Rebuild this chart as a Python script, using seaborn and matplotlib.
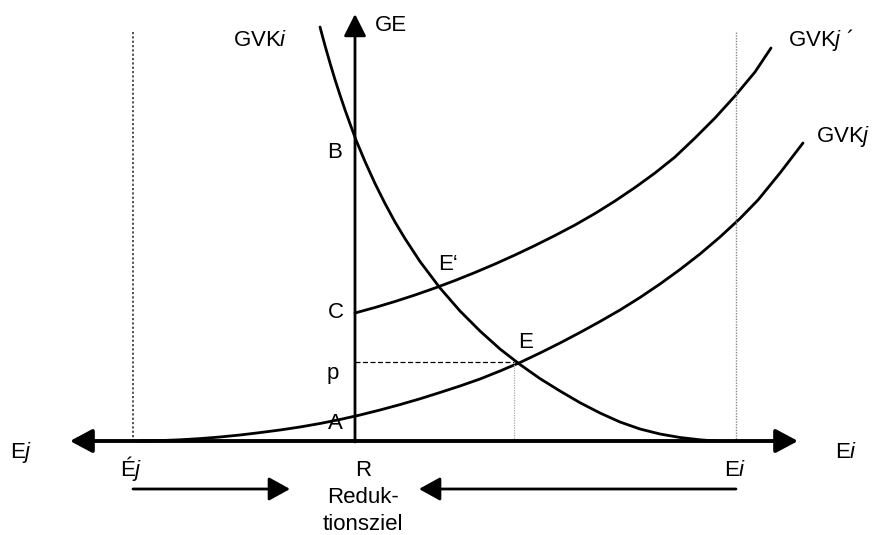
import matplotlib
matplotlib.use("Agg")
import matplotlib.pyplot as plt
import seaborn as sns
import pandas as pd

sns.set_style("white")
plt.rcParams['font.family'] = ['Liberation Sans', 'DejaVu Sans']
plt.rcParams['mathtext.fontset'] = 'custom'
plt.rcParams['mathtext.rm'] = 'Liberation Sans'
plt.rcParams['mathtext.it'] = 'Liberation Sans:italic'

# ---- data (diagram units, y grows downward) ----
gvki_x = [320, 325, 330, 335, 340, 345, 350, 356, 365, 375, 385, 395, 405, 420, 440,
          460, 480, 500, 520, 540, 560, 580, 600, 620, 640, 660, 680, 700, 715]
gvki_y = [27, 45.6, 63, 79.6, 95, 109.8, 123.7, 140, 161.5, 183.5, 203.5, 222, 238.6, 261.5, 288,
          311, 331, 349, 364.5, 378.6, 391, 402.7, 413, 422, 429, 434, 437.5, 439.8, 441]

gvkj2_x = [355, 375, 395, 415, 435, 455, 475, 495, 515, 535, 555, 575, 595,
           615, 635, 655, 675, 695, 715, 735, 755, 771]
gvkj2_y = [313, 307.5, 301.5, 295, 288, 280.5, 272.5, 264, 255, 245.5, 235.5, 225, 213.5,
           201, 187.5, 173, 157, 138, 118, 96, 72, 48]

gvkj_x = [140, 160, 180, 200, 220, 240, 260, 280, 300, 320, 340, 360, 380, 400, 420, 440,
          460, 480, 500, 520, 540, 560, 580, 600, 620, 640, 660, 680, 700, 720, 740, 758, 780, 803]
gvkj_y = [441, 440.6, 439.8, 438.6, 437, 435, 432.6, 430, 427, 423.5, 419.5, 415, 410, 404.6,
          398.8, 392.5, 386, 379, 371, 362.5, 353, 343, 332.5, 321.5, 310, 297.5, 284, 269.5,
          254, 237, 218.5, 200, 173, 143]

axis_y = 441          # horizontal axis (quantity)
axis_x = 355          # vertical axis (GE) at R
x_left_end, x_right_end = 70, 798
y_top_end = 14
ej_limit_x = 133      # Éj
ei_limit_x = 736      # Ei
limit_top = 32
E_x, p_y = 514, 362   # equilibrium E / price p
arrow_y = 489

df = pd.concat([
    pd.DataFrame({'x': gvki_x, 'y': gvki_y, 'curve': 'GVKi'}),
    pd.DataFrame({'x': gvkj2_x, 'y': gvkj2_y, 'curve': "GVKj'"}),
    pd.DataFrame({'x': gvkj_x, 'y': gvkj_y, 'curve': 'GVKj'}),
])

fig = plt.figure(figsize=(8.75, 5.35), dpi=100)
ax = fig.add_axes([0, 0, 1, 1])
ax.set_xlim(0, 875)
ax.set_ylim(535, 0)
ax.axis('off')

sns.lineplot(data=df, x='x', y='y', hue='curve', units='curve', estimator=None,
             sort=False, palette={'GVKi': 'black', "GVKj'": 'black', 'GVKj': 'black'},
             legend=False, lw=2, ax=ax)

# guide lines
ax.plot([ej_limit_x, ej_limit_x], [limit_top, axis_y], color='#444444', lw=1.3, ls=(0, (1.2, 1.2)))
ax.plot([ei_limit_x, ei_limit_x], [limit_top, axis_y], color='#888888', lw=1.0, ls=(0, (1, 1)))
ax.plot([axis_x, E_x], [p_y, p_y], color='black', lw=0.9, ls=(0, (4, 2)))
ax.plot([E_x, E_x], [p_y, axis_y], color='#aaaaaa', lw=0.9, ls=(0, (1, 1)))

# axes with arrowheads
ax.annotate('', xy=(x_right_end, axis_y), xytext=(x_left_end, axis_y),
            arrowprops=dict(arrowstyle='<|-|>,head_length=1.35,head_width=0.72',
                            mutation_scale=10, lw=2.8, color='black', shrinkA=0, shrinkB=0))
ax.annotate('', xy=(axis_x, y_top_end), xytext=(axis_x, axis_y + 1),
            arrowprops=dict(arrowstyle='-|>,head_length=1.35,head_width=0.68',
                            mutation_scale=10, lw=2, color='black', shrinkA=0, shrinkB=0))
ax.annotate('', xy=(290, arrow_y), xytext=(ej_limit_x, arrow_y),
            arrowprops=dict(arrowstyle='-|>,head_length=1.3,head_width=0.72',
                            mutation_scale=10, lw=2, color='black', shrinkA=0, shrinkB=0))
ax.annotate('', xy=(419, arrow_y), xytext=(ei_limit_x, arrow_y),
            arrowprops=dict(arrowstyle='-|>,head_length=1.3,head_width=0.72',
                            mutation_scale=10, lw=2, color='black', shrinkA=0, shrinkB=0))

fs = 16
def T(x, y, s, ha='left', va='baseline'):
    ax.text(x, y, s, fontsize=fs, ha=ha, va=va, color='black')

T(375, 31, 'GE')
T(233, 46, r'GVK$\mathit{i}$')
T(788, 46, r'GVK$\mathit{j}$ ´')
T(816, 142, r'GVK$\mathit{j}$')
T(335, 158, 'B', ha='center')
T(336, 318, 'C', ha='center')
T(333, 379, 'p', ha='center')
T(335, 429, 'A', ha='center')
T(438, 270, 'E‘')
T(518, 348, 'E')
T(10, 458, r'E$\mathit{j}$')
T(835, 458, r'E$\mathit{i}$')
T(120, 476, r'É$\mathit{j}$')
T(724, 476, r'E$\mathit{i}$')
T(363, 476, 'R', ha='center')
T(363, 503, 'Reduk-', ha='center')
T(363, 530, 'tionsziel', ha='center')

fig.savefig('out.png', dpi=100)
